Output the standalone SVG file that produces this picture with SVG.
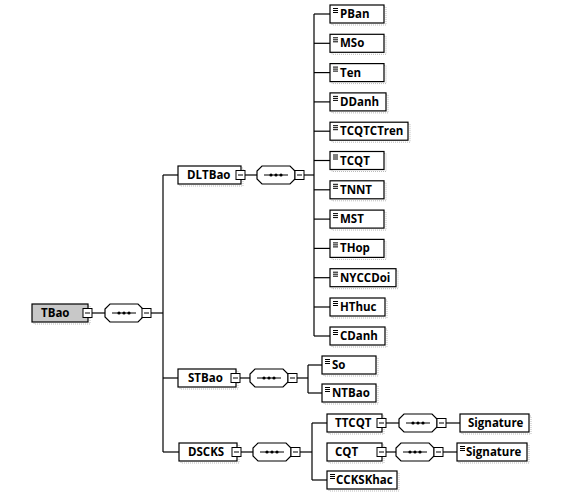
<svg xmlns="http://www.w3.org/2000/svg" width="585" height="495" viewBox="0 0 585 495">
<style>
.box{fill:#fff;stroke:#000;stroke-width:1.2}
.root{fill:#c8c8c8;stroke:#000;stroke-width:1.2}
.sh{fill:none;stroke:#bbb;stroke-width:1;stroke-dasharray:1 1}
.sq{fill:#fff;stroke:#000;stroke-width:1}
.mn{stroke:#000;stroke-width:1}
.seq{fill:#fff;stroke:#000;stroke-width:1.2}
.ln{fill:none;stroke:#000;stroke-width:1.2}
.ic{stroke:#000;stroke-width:1}
text{font-family:"Open Sans","Liberation Sans",sans-serif;font-size:11.5px;font-weight:bold;fill:#000}
</style>
<defs>
<g id="seqsym">
<path class="seq" d="M5,0 H33 L38,5 V13 L33,18 H5 L0,13 V5 Z"/>
<line class="mn" x1="7" y1="9" x2="31" y2="9"/>
<circle cx="14" cy="9" r="1.6"/><circle cx="19" cy="9" r="1.6"/><circle cx="24" cy="9" r="1.6"/>
</g>
<g id="sqm">
<rect class="sq" x="0" y="0" width="9" height="9"/>
<line class="mn" x1="2" y1="4.5" x2="7" y2="4.5"/>
</g>
<g id="icon">
<line class="ic" x1="0" y1="0.5" x2="5" y2="0.5"/>
<line class="ic" x1="0" y1="2.5" x2="5" y2="2.5"/>
<line class="ic" x1="0" y1="4.5" x2="5" y2="4.5"/>
</g>
</defs>

<g id="connectors">
<line class="ln" x1="92" y1="313" x2="105" y2="313"/>
<line class="ln" x1="151" y1="313" x2="163" y2="313"/>
<line class="ln" x1="163" y1="175" x2="163" y2="452"/>
<line class="ln" x1="163" y1="175" x2="178" y2="175"/>
<line class="ln" x1="163" y1="378" x2="178" y2="378"/>
<line class="ln" x1="163" y1="452" x2="179" y2="452"/>
<line class="ln" x1="245" y1="175" x2="257" y2="175"/>
<line class="ln" x1="304" y1="175" x2="314" y2="175"/>
<line class="ln" x1="314" y1="14" x2="314" y2="336"/>
<line class="ln" x1="314" y1="14" x2="330" y2="14"/>
<line class="ln" x1="314" y1="43.3" x2="330" y2="43.3"/>
<line class="ln" x1="314" y1="72.6" x2="330" y2="72.6"/>
<line class="ln" x1="314" y1="101.9" x2="330" y2="101.9"/>
<line class="ln" x1="314" y1="131.2" x2="330" y2="131.2"/>
<line class="ln" x1="314" y1="160.5" x2="330" y2="160.5"/>
<line class="ln" x1="314" y1="189.8" x2="330" y2="189.8"/>
<line class="ln" x1="314" y1="219.1" x2="330" y2="219.1"/>
<line class="ln" x1="314" y1="248.4" x2="330" y2="248.4"/>
<line class="ln" x1="314" y1="277.7" x2="330" y2="277.7"/>
<line class="ln" x1="314" y1="307" x2="330" y2="307"/>
<line class="ln" x1="314" y1="336" x2="330" y2="336"/>
<line class="ln" x1="240" y1="378" x2="250" y2="378"/>
<line class="ln" x1="297" y1="378" x2="308" y2="378"/>
<line class="ln" x1="308" y1="365" x2="308" y2="393"/>
<line class="ln" x1="308" y1="365" x2="322" y2="365"/>
<line class="ln" x1="308" y1="393" x2="322" y2="393"/>
<line class="ln" x1="241" y1="452" x2="253" y2="452"/>
<line class="ln" x1="300" y1="452" x2="312" y2="452"/>
<line class="ln" x1="312" y1="423" x2="312" y2="480"/>
<line class="ln" x1="312" y1="423" x2="327" y2="423"/>
<line class="ln" x1="312" y1="480" x2="327" y2="480"/>
<line class="ln" x1="386" y1="423" x2="399" y2="423"/>
<line class="ln" x1="446" y1="423" x2="460" y2="423"/>
<line class="ln" x1="386" y1="452" x2="396" y2="452"/>
<line class="ln" x1="443" y1="452" x2="457" y2="452"/>
</g>

<g id="TBao">
<rect class="sh" x="34" y="306" width="56" height="18"/>
<rect class="root" x="32" y="304" width="56" height="18"/>
<text x="41" y="317">TBao</text>
<use href="#sqm" x="83" y="308.5"/>
</g>
<g id="TBao-seq">
<use href="#seqsym" x="105" y="304"/>
<use href="#sqm" x="142" y="308.5"/>
</g>

<g id="DLTBao">
<rect class="sh" x="180" y="168" width="63" height="18"/>
<rect class="box" x="178" y="166" width="63" height="18"/>
<text x="187" y="179">DLTBao</text>
<use href="#sqm" x="236" y="170.5"/>
</g>
<g id="DLTBao-seq">
<use href="#seqsym" x="257" y="166"/>
<use href="#sqm" x="295" y="170.5"/>
</g>

<g id="PBan"><rect class="sh" x="332" y="7" width="54" height="18"/><rect class="box" x="330" y="5" width="54" height="18"/><use href="#icon" x="333" y="8"/><text x="340" y="18">PBan</text></g>
<g id="MSo"><rect class="sh" x="332" y="36.3" width="54" height="18"/><rect class="box" x="330" y="34.3" width="54" height="18"/><use href="#icon" x="333" y="37.3"/><text x="340" y="47.3">MSo</text></g>
<g id="Ten"><rect class="sh" x="332" y="65.6" width="54" height="18"/><rect class="box" x="330" y="63.6" width="54" height="18"/><use href="#icon" x="333" y="66.6"/><text x="340" y="76.6">Ten</text></g>
<g id="DDanh"><rect class="sh" x="332" y="94.9" width="56" height="18"/><rect class="box" x="330" y="92.9" width="56" height="18"/><use href="#icon" x="333" y="95.9"/><text x="340" y="105.9">DDanh</text></g>
<g id="TCQTCTren"><rect class="sh" x="332" y="124.2" width="78" height="18"/><rect class="box" x="330" y="122.2" width="78" height="18"/><use href="#icon" x="333" y="125.2"/><text x="340" y="135.2">TCQTCTren</text></g>
<g id="TCQT"><rect class="sh" x="332" y="153.5" width="54" height="18"/><rect class="box" x="330" y="151.5" width="54" height="18"/><use href="#icon" x="333" y="154.5"/><text x="340" y="164.5">TCQT</text></g>
<g id="TNNT"><rect class="sh" x="332" y="182.8" width="54" height="18"/><rect class="box" x="330" y="180.8" width="54" height="18"/><use href="#icon" x="333" y="183.8"/><text x="340" y="193.8">TNNT</text></g>
<g id="MST"><rect class="sh" x="332" y="212.1" width="54" height="18"/><rect class="box" x="330" y="210.1" width="54" height="18"/><use href="#icon" x="333" y="213.1"/><text x="340" y="223.1">MST</text></g>
<g id="THop"><rect class="sh" x="332" y="241.4" width="54" height="18"/><rect class="box" x="330" y="239.4" width="54" height="18"/><use href="#icon" x="333" y="242.4"/><text x="340" y="252.4">THop</text></g>
<g id="NYCCDoi"><rect class="sh" x="332" y="270.7" width="66" height="18"/><rect class="box" x="330" y="268.7" width="66" height="18"/><use href="#icon" x="333" y="271.7"/><text x="340" y="281.7">NYCCDoi</text></g>
<g id="HThuc"><rect class="sh" x="332" y="300" width="55" height="18"/><rect class="box" x="330" y="298" width="55" height="18"/><use href="#icon" x="333" y="301"/><text x="340" y="311">HThuc</text></g>
<g id="CDanh"><rect class="sh" x="332" y="329" width="55" height="18"/><rect class="box" x="330" y="327" width="55" height="18"/><use href="#icon" x="333" y="330"/><text x="340" y="340">CDanh</text></g>

<g id="STBao">
<rect class="sh" x="180" y="371" width="58" height="18"/>
<rect class="box" x="178" y="369" width="58" height="18"/>
<text x="188" y="382">STBao</text>
<use href="#sqm" x="231" y="373.5"/>
</g>
<g id="STBao-seq">
<use href="#seqsym" x="250" y="369"/>
<use href="#sqm" x="288" y="373.5"/>
</g>
<g id="So"><rect class="sh" x="324" y="358" width="54" height="18"/><rect class="box" x="322" y="356" width="54" height="18"/><use href="#icon" x="325" y="359"/><text x="332" y="369">So</text></g>
<g id="NTBao"><rect class="sh" x="324" y="386" width="54" height="18"/><rect class="box" x="322" y="384" width="54" height="18"/><use href="#icon" x="325" y="387"/><text x="332" y="397">NTBao</text></g>

<g id="DSCKS">
<rect class="sh" x="181" y="445" width="58" height="18"/>
<rect class="box" x="179" y="443" width="58" height="18"/>
<text x="188" y="456">DSCKS</text>
<use href="#sqm" x="232" y="447.5"/>
</g>
<g id="DSCKS-seq">
<use href="#seqsym" x="253" y="443"/>
<use href="#sqm" x="291" y="447.5"/>
</g>
<g id="TTCQT">
<rect class="sh" x="329" y="416" width="55" height="18"/>
<rect class="box" x="327" y="414" width="55" height="18"/>
<text x="335" y="427">TTCQT</text>
<use href="#sqm" x="377" y="418.5"/>
</g>
<g id="TTCQT-seq">
<use href="#seqsym" x="399" y="414"/>
<use href="#sqm" x="437" y="418.5"/>
</g>
<g id="Signature1"><rect class="sh" x="462" y="416" width="69" height="18"/><rect class="box" x="460" y="414" width="69" height="18"/><text x="468" y="427">Signature</text></g>
<g id="CQT">
<rect class="sh" x="329" y="445" width="55" height="18"/>
<rect class="box" x="327" y="443" width="55" height="18"/>
<text x="335" y="456">CQT</text>
<use href="#sqm" x="377" y="447.5"/>
</g>
<g id="CQT-seq">
<use href="#seqsym" x="396" y="443"/>
<use href="#sqm" x="434" y="447.5"/>
</g>
<g id="Signature2"><rect class="sh" x="459" y="445" width="70" height="18"/><rect class="box" x="457" y="443" width="70" height="18"/><use href="#icon" x="460" y="446"/><text x="466" y="456">Signature</text></g>
<g id="CCKSKhac"><rect class="sh" x="329" y="473" width="70" height="18"/><rect class="box" x="327" y="471" width="70" height="18"/><use href="#icon" x="330" y="474"/><text x="336" y="484">CCKSKhac</text></g>
</svg>
